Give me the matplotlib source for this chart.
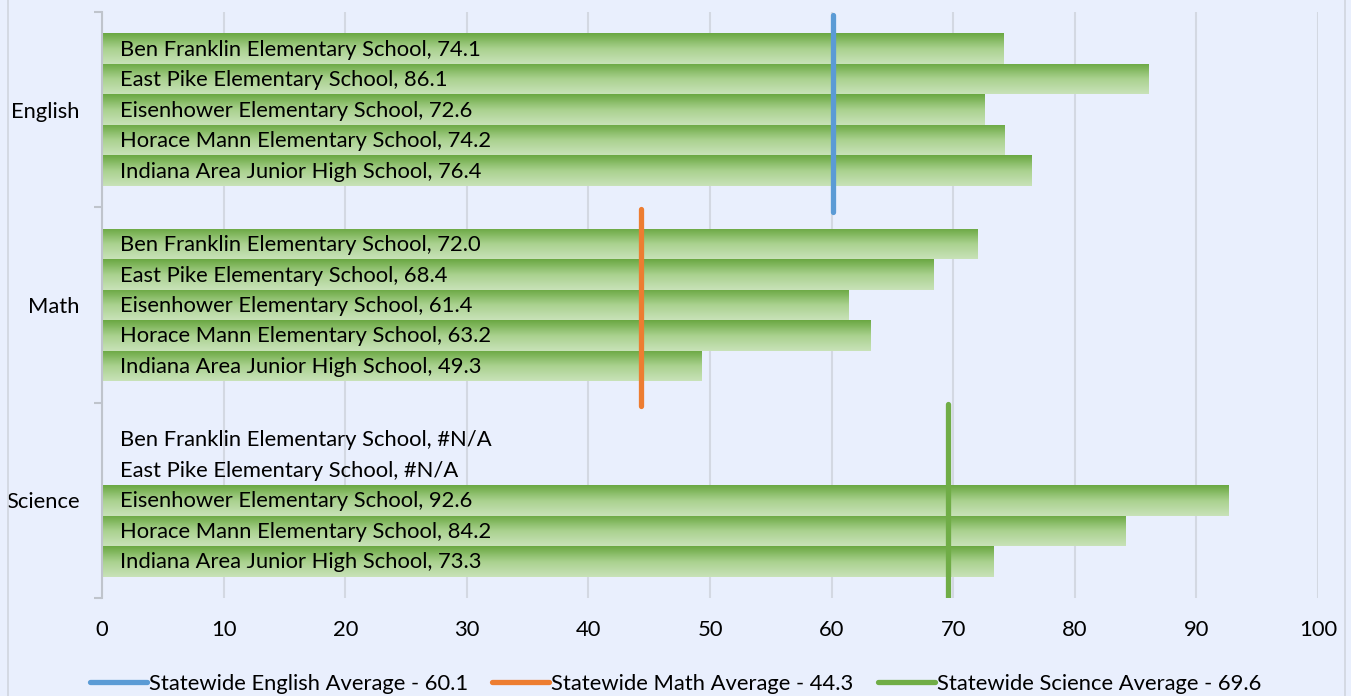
import numpy as np
import matplotlib
matplotlib.use("Agg")
import matplotlib.pyplot as plt
from matplotlib.colors import LinearSegmentedColormap
from matplotlib.lines import Line2D

subjects = ["English", "Math", "Science"]
schools = ["Ben Franklin Elementary School", "East Pike Elementary School",
           "Eisenhower Elementary School", "Horace Mann Elementary School",
           "Indiana Area Junior High School"]
english = [74.1, 86.1, 72.6, 74.2, 76.4]
math_ = [72.0, 68.4, 61.4, 63.2, 49.3]
science = [None, None, 92.6, 84.2, 73.3]
scores = [english, math_, science]
state_avg = [60.1, 44.3, 69.6]
avg_colors = ["#5B9BD5", "#ED7D31", "#70AD47"]
xticks = [0, 10, 20, 30, 40, 50, 60, 70, 80, 90, 100]

bg = "#E9EFFD"
plt.rcParams['font.family'] = ['Lato', 'DejaVu Sans']

fig = plt.figure(figsize=(13.51, 6.96), dpi=100, facecolor=bg)
ax = fig.add_axes([102/1351, 1 - 598/696, (1318 - 102)/1351, (598 - 12)/696])
ax.set_facecolor(bg)

bar_h = 0.156
grad = LinearSegmentedColormap.from_list("g", ["#6AA842", "#A9D18E", "#C8E2B8"])
gimg = np.linspace(0, 1, 64).reshape(-1, 1)

fs = 15.8
for g, vals in enumerate(scores):
    for j, v in enumerate(vals):
        yc = g + 0.5 + (j - 2) * bar_h
        if v is not None:
            bars = ax.barh([yc], [v], height=bar_h, color="none", edgecolor="none")
            p = bars.patches[0]
            im = ax.imshow(gimg, cmap=grad, aspect="auto",
                           extent=[0, v, yc + bar_h / 2, yc - bar_h / 2],
                           zorder=2, interpolation="bilinear")
            im.set_clip_path(p)
            lab = f"{schools[j]}, {v:.1f}"
        else:
            lab = f"{schools[j]}, #N/A"
        ax.text(1.45, yc + 0.005, lab, va="center", ha="left", fontsize=fs,
                color="black", zorder=5)

# statewide average lines
spans = [(0.015, 1.026), (1.01, 2.015), (2.005, 3.0)]
for g, (avg, c) in enumerate(zip(state_avg, avg_colors)):
    ax.plot([avg, avg], spans[g], color=c, lw=3.8, solid_capstyle="round", zorder=4)

ax.set_xlim(0, 100)
ax.set_ylim(3, 0)
ax.set_xticks(xticks)
ax.set_xticklabels([str(t) for t in xticks], fontsize=fs)
ax.tick_params(axis="x", length=0, pad=16)
ax.grid(axis="x", color="#D3D8E2", lw=1.5, zorder=0)
ax.set_axisbelow(True)

ax.set_yticks([0, 1, 2, 3])
ax.set_yticklabels([])
ax.set_yticks([0.5, 1.5, 2.5], minor=True)
ax.set_yticklabels(subjects, minor=True, fontsize=fs)
ax.tick_params(axis="y", which="major", length=6, color="#BFC4CC", width=1.5)
ax.tick_params(axis="y", which="minor", length=0, pad=16)

for s in ["top", "right", "bottom"]:
    ax.spines[s].set_visible(False)
ax.spines["left"].set_color("#BFC4CC")
ax.spines["left"].set_linewidth(1.5)

handles = [Line2D([0], [0], color=c, lw=3.8, solid_capstyle="round") for c in avg_colors]
labels = [f"Statewide {s} Average - {a}" for s, a in zip(subjects, state_avg)]
fig.legend(handles, labels, loc="center", bbox_to_anchor=(0.5, 1 - 684/696), ncol=3,
           frameon=False, fontsize=fs, handlelength=2.6, handletextpad=0.1,
           columnspacing=1.1)

# chart border
fig.add_artist(Line2D([8/1351, 8/1351], [0, 1], color="#D0D5DE", lw=1.2))
fig.add_artist(Line2D([1345/1351, 1345/1351], [0, 1], color="#D0D5DE", lw=1.2))

fig.savefig("out.png", dpi=100, facecolor=bg)
